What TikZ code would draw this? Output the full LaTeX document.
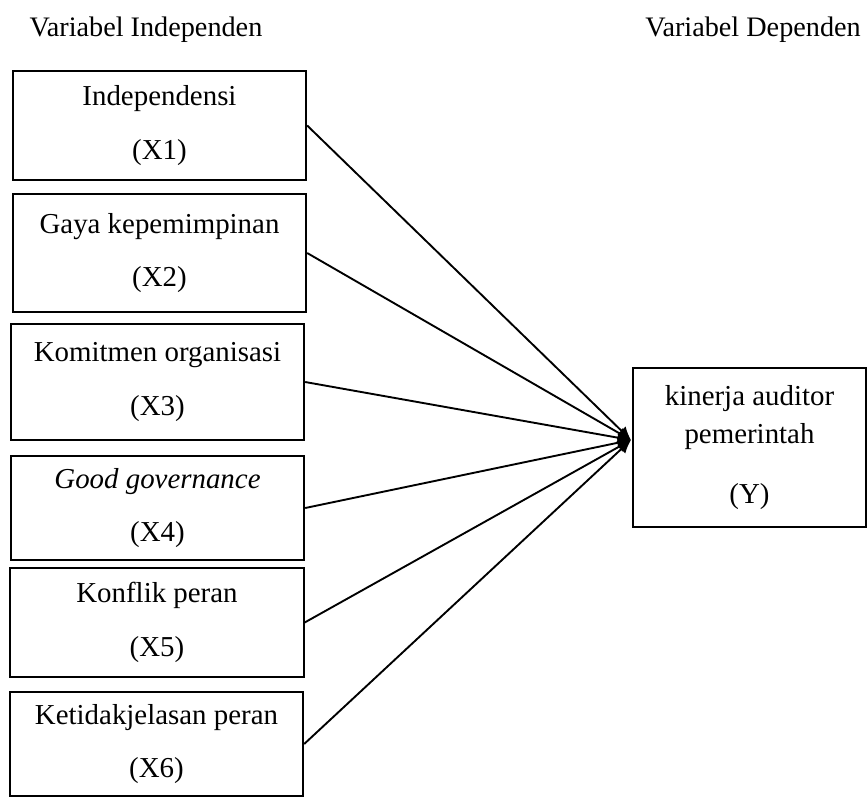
\documentclass[tikz,border=0pt]{standalone}
\usepackage{fontspec}
\setmainfont{Liberation Serif}
\usetikzlibrary{arrows.meta}
\tikzset{
	varbox/.style={draw=black,solid,line width=0.9pt,minimum width=132pt,align=center,inner sep=0pt,font=\fontsize{13}{15}\selectfont},
	varlink/.style={black,solid,line width=0.85pt,-{Latex[length=6pt,width=5.5pt]}},
	header/.style={font=\fontsize{12.7}{15}\selectfont}
}
\begin{document}
\begin{tikzpicture}[x=0.45pt,y=-0.45pt]
	\useasboundingbox (0,0) rectangle (867,798);
	\node[header] (hind) at (146,30) {Variabel Independen};
	\node[header] (hdep) at (753,30) {Variabel Dependen};
	\node[varbox,minimum height=49pt] (x1) at (159.5,125.5) {Independensi\\[9pt](X1)};
	\node[varbox,minimum height=53pt] (x2) at (159.5,253) {Gaya kepemimpinan\\[9pt](X2)};
	\node[varbox,minimum height=52pt] (x3) at (157.5,382) {Komitmen organisasi\\[9pt](X3)};
	\node[varbox,minimum height=47pt] (x4) at (157.5,508) {\textit{Good governance}\\[9pt](X4)};
	\node[varbox,minimum height=49pt] (x5) at (157,622.5) {Konflik peran\\[9pt](X5)};
	\node[varbox,minimum height=47pt] (x6) at (156.5,744) {Ketidakjelasan peran\\[9pt](X6)};
	\node[varbox,minimum width=105pt,minimum height=71.5pt] (y) at (749.5,447.5) {kinerja auditor\\[2pt]pemerintah\\[12pt](Y)};
	\coordinate (tip) at (631,440);
	\draw[varlink] (x1.east) -- (tip);
	\draw[varlink] (x2.east) -- (tip);
	\draw[varlink] (x3.east) -- (tip);
	\draw[varlink] (x4.east) -- (tip);
	\draw[varlink] (x5.east) -- (tip);
	\draw[varlink] (x6.east) -- (tip);
\end{tikzpicture}
\end{document}
